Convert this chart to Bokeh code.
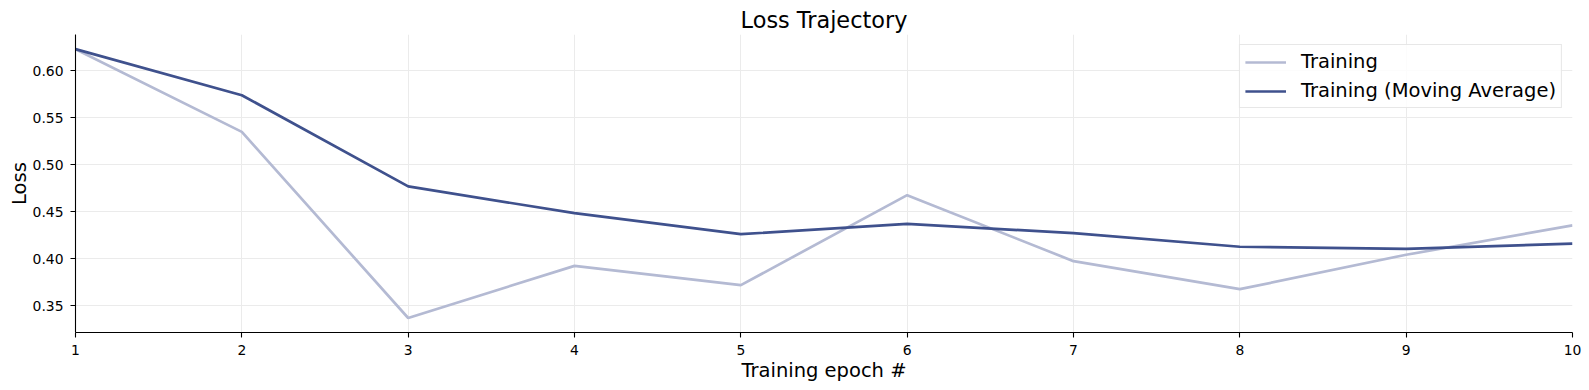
from bokeh.plotting import figure
from bokeh.models import Range1d, FixedTicker, NumeralTickFormatter, Legend, LegendItem
from bokeh.embed import file_html
from bokeh.resources import INLINE

epochs = [1, 2, 3, 4, 5, 6, 7, 8, 9, 10]
training = [0.623, 0.535, 0.337, 0.3925, 0.372, 0.4677, 0.3975, 0.3677, 0.4043, 0.4355]
training_ma = [0.623, 0.574, 0.477, 0.4485, 0.4262, 0.4372, 0.4273, 0.4128, 0.4106, 0.4162]
y_ticks = [0.35, 0.40, 0.45, 0.50, 0.55, 0.60]
x_ticks = epochs

FONT = "DejaVu Sans"

p = figure(width=1589, height=390, output_backend="svg", toolbar_location=None,
           x_range=Range1d(1, 10), y_range=Range1d(0.3216, 0.6386),
           min_border_left=75, min_border_right=17, min_border_top=34, min_border_bottom=58,
           title="Loss Trajectory")
p.outline_line_color = None
p.background_fill_color = "white"

p.title.align = "center"
p.title.text_font = FONT
p.title.text_font_size = "22.4px"
p.title.text_font_style = "normal"
p.title.text_color = "black"
p.title.standoff = 4

r1 = p.line(epochs, training, line_color="#b4bad3", line_width=2.7)
r2 = p.line(epochs, training_ma, line_color="#3f518d", line_width=2.7)

for ax in (p.xaxis[0], p.yaxis[0]):
    ax.axis_line_color = "black"
    ax.axis_line_width = 1.1
    ax.major_tick_line_color = "black"
    ax.major_tick_line_width = 1.1
    ax.major_tick_out = 5
    ax.major_tick_in = 0
    ax.minor_tick_line_color = None
    ax.major_label_text_font = FONT
    ax.major_label_text_font_size = "13.9px"
    ax.major_label_text_color = "black"
    ax.axis_label_text_font = FONT
    ax.axis_label_text_font_size = "19.5px"
    ax.axis_label_text_font_style = "normal"
    ax.axis_label_text_color = "black"

p.xaxis.ticker = FixedTicker(ticks=x_ticks)
p.yaxis.ticker = FixedTicker(ticks=y_ticks)
p.yaxis.formatter = NumeralTickFormatter(format="0.00")
p.xaxis.axis_label = "Training epoch #"
p.yaxis.axis_label = "Loss"
p.xaxis.major_label_standoff = 7
p.yaxis.major_label_standoff = 7
p.xaxis.axis_label_standoff = 1
p.yaxis.axis_label_standoff = -1

p.xgrid.grid_line_color = "#ebebeb"
p.ygrid.grid_line_color = "#ebebeb"
p.xgrid.grid_line_width = 1
p.ygrid.grid_line_width = 1

legend = Legend(items=[LegendItem(label="Training", renderers=[r1]),
                       LegendItem(label="Training (Moving Average)", renderers=[r2])],
                location="top_right", margin=10, padding=5, spacing=6,
                glyph_width=41, glyph_height=22, label_height=22, label_standoff=15,
                label_text_font=FONT, label_text_font_size="19.5px", label_text_color="black",
                border_line_color="#d0d0d0", border_line_width=1,
                background_fill_color="white", background_fill_alpha=0.85)
p.add_layout(legend)

open("out.html", "w").write(file_html(p, INLINE))
